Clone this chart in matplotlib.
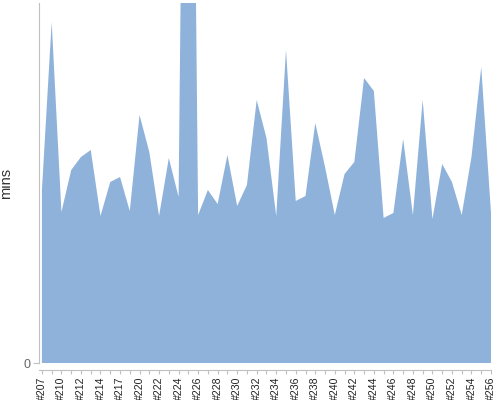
import matplotlib
matplotlib.use("Agg")
import matplotlib.pyplot as plt

plt.rcParams['font.family'] = ['Liberation Sans', 'DejaVu Sans']

# build numbers on the x axis (a few builds are missing)
builds = [207, 208, 210, 211, 212, 213, 214, 216, 217, 219,
          220, 221, 222, 223, 224, 225, 226, 227, 228, 229,
          230, 231, 232, 233, 234, 235, 236, 237, 238, 239,
          240, 241, 242, 243, 244, 245, 246, 247, 248, 249,
          250, 251, 252, 253, 254, 255, 256]

# build duration in minutes
durations = [17.3, 34.1, 15.1, 19.3, 20.6, 21.3, 14.7, 18.1, 18.6, 15.2,
             24.8, 21.1, 14.7, 20.5, 16.6, 113.6, 14.8, 17.3, 15.9, 20.8,
             15.7, 17.8, 26.3, 22.5, 14.7, 31.3, 16.2, 16.7, 24.0, 19.6,
             14.8, 18.9, 20.1, 28.5, 27.2, 14.5, 15.0, 22.4, 14.8, 26.3,
             14.4, 19.9, 18.1, 14.8, 20.6, 29.6, 15.0]

tick_labels = ["#%d" % b if i % 2 == 0 else "" for i, b in enumerate(builds)]


def create_chart():
    fig = plt.figure(figsize=(5, 4), dpi=100)
    ax = fig.add_axes([0.077, 0.0925, 0.905, 0.9])

    # spine offset first, it resets the ticks
    for side in ['top', 'right']:
        ax.spines[side].set_visible(False)
    ax.spines['left'].set_color('#c0c0c0')
    ax.spines['bottom'].set_color('#c0c0c0')
    ax.spines['bottom'].set_position(('outward', 5))

    x = list(range(len(builds)))
    ax.fill_between(x, durations, 0, color='#8fb2db', linewidth=0)

    ax.set_xlim(-0.35, len(builds) - 1)
    ax.set_ylim(0, 36)

    ax.set_xticks(x)
    ax.set_xticklabels(tick_labels, rotation=90, fontsize=7.6, color='#222222')
    ax.set_yticks([0])
    ax.set_yticklabels(["0"], fontsize=9, color='#666666')

    ax.tick_params(axis='x', length=3, color='#c0c0c0', pad=1.5)
    ax.tick_params(axis='y', length=4.5, color='#c0c0c0', pad=1.5)

    ax.set_ylabel("mins", fontsize=10.5, color='#333333')
    ax.yaxis.set_label_coords(-0.056, 0.5)

    fig.savefig("out.png", dpi=100)


if __name__ == "__main__":
    create_chart()
